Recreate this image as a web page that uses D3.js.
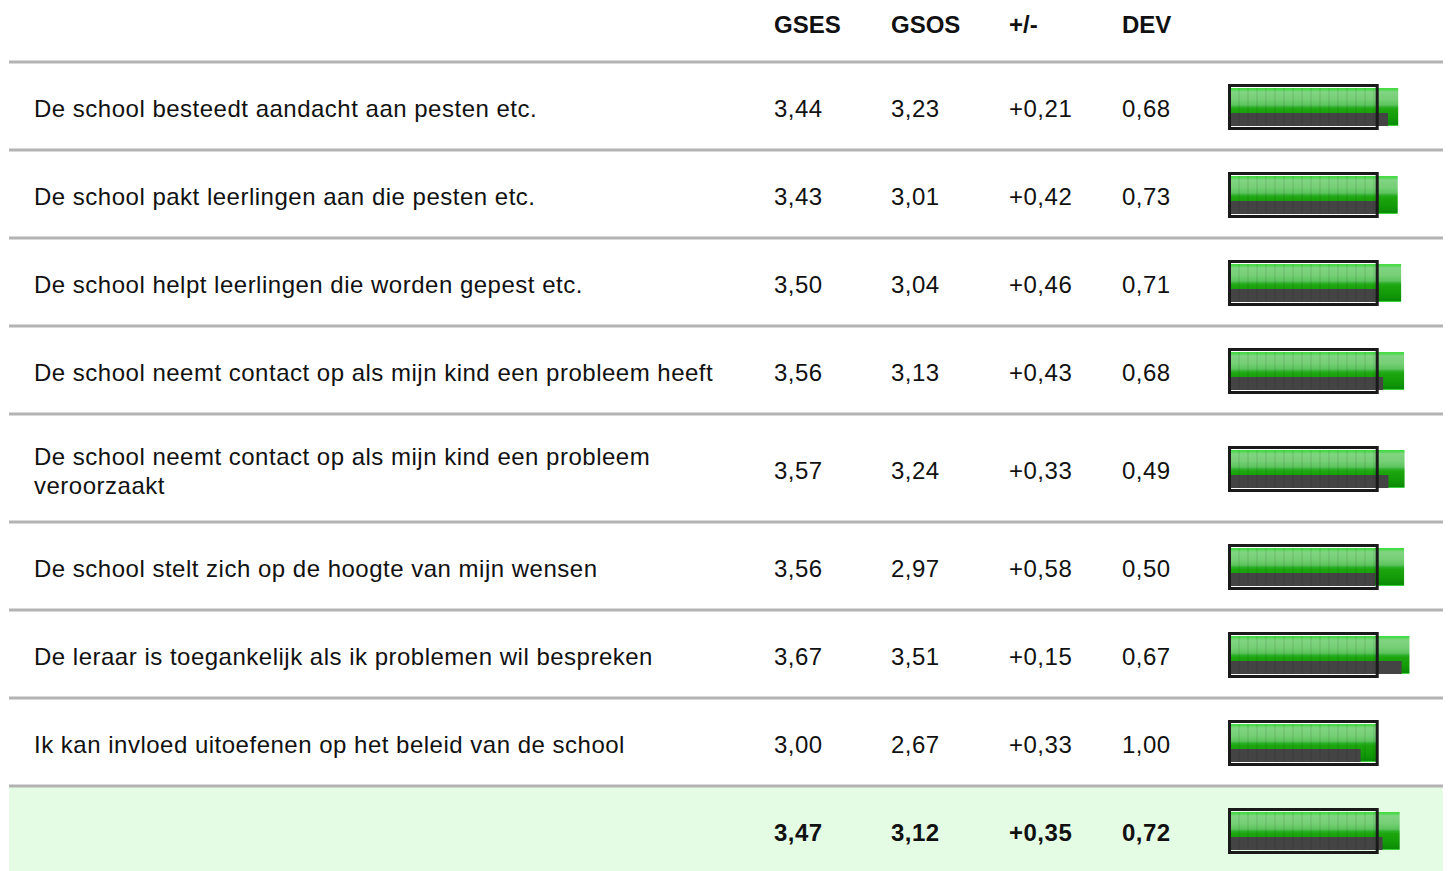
<!DOCTYPE html>
<html>
<head>
<meta charset="utf-8">
<script src="https://cdn.jsdelivr.net/npm/d3@7"></script>
<style>
  html, body { margin: 0; padding: 0; background: #fff; }
  svg { display: block; font-family: "Liberation Sans", Arial, Helvetica, sans-serif; }
</style>
</head>
<body>
<div id="chart"></div>
<script>
const columns = ['GSES', 'GSOS', '+/-', 'DEV'];

const labels = [
  'De school besteedt aandacht aan pesten etc.',
  'De school pakt leerlingen aan die pesten etc.',
  'De school helpt leerlingen die worden gepest etc.',
  'De school neemt contact op als mijn kind een probleem heeft',
  'De school neemt contact op als mijn kind een probleem veroorzaakt',
  'De school stelt zich op de hoogte van mijn wensen',
  'De leraar is toegankelijk als ik problemen wil bespreken',
  'Ik kan invloed uitoefenen op het beleid van de school'
];
const gses = [3.44, 3.43, 3.50, 3.56, 3.57, 3.56, 3.67, 3.00];
const gsos = [3.23, 3.01, 3.04, 3.13, 3.24, 2.97, 3.51, 2.67];
const diff = [0.21, 0.42, 0.46, 0.43, 0.33, 0.58, 0.15, 0.33];
const dev = [0.68, 0.73, 0.71, 0.68, 0.49, 0.50, 0.67, 1.00];

const totalGses = 3.47;
const totalGsos = 3.12;
const totalDiff = 0.35;
const totalDev = 0.72;

const width = 1448;
const height = 871;

const fmt = (v) => v.toFixed(2).replace('.', ',');
const fmtSigned = (v) => (v >= 0 ? '+' : '-') + fmt(Math.abs(v));

const svg = d3.select('#chart')
  .append('svg')
  .attr('width', width)
  .attr('height', height);

const defs = svg.append('defs');
const grad = defs.append('linearGradient')
  .attr('id', 'greenGrad')
  .attr('x1', 0).attr('y1', 0).attr('x2', 0).attr('y2', 1);
[
  [0, '#3fdc3f'], [0.05, '#54d854'], [0.1, '#82d482'], [0.3, '#76cf76'],
  [0.45, '#5cc45c'], [0.5, '#2fb02f'], [0.56, '#1ea60f'], [0.8, '#129a08'],
  [0.96, '#0a8a05'], [0.97, '#3ccf3c'], [1, '#3ccf3c']
].forEach(([o, c]) => grad.append('stop').attr('offset', o).attr('stop-color', c));

const lineLeft = 9;
const lineRight = 1443;
const labelX = 34;
const labelMax = 720;
const colX = [774, 891, 1009, 1122];
const headerBottom = 62;
const rowH = 88;
const lineGap = 29;
const spacing = 0.5;

// bar scale: frame box marks 0..3
const x = d3.scaleLinear().domain([0, 3]).range([1230, 1376.7]);

// header
svg.append('g')
  .selectAll('text')
  .data(columns)
  .join('text')
  .attr('x', (d, i) => colX[i])
  .attr('y', 33)
  .attr('font-size', 24)
  .attr('font-weight', 'bold')
  .attr('fill', '#111')
  .text((d) => d);

// wrap labels by measuring
const measure = svg.append('text')
  .attr('font-size', 24)
  .attr('letter-spacing', spacing)
  .attr('visibility', 'hidden');
function wrap(str) {
  const words = str.split(' ');
  const lines = [];
  let cur = '';
  words.forEach((w) => {
    const test = cur ? cur + ' ' + w : w;
    measure.text(test);
    if (measure.node().getComputedTextLength() > labelMax && cur) {
      lines.push(cur);
      cur = w;
    } else {
      cur = test;
    }
  });
  lines.push(cur);
  return lines;
}

const rows = labels.map((label, i) => ({
  lines: wrap(label),
  values: [fmt(gses[i]), fmt(gsos[i]), fmtSigned(diff[i]), fmt(dev[i])],
  a: gses[i],
  b: gsos[i],
  total: false
}));
rows.push({
  lines: [],
  values: [fmt(totalGses), fmt(totalGsos), fmtSigned(totalDiff), fmt(totalDev)],
  a: totalGses,
  b: totalGsos,
  total: true
});
measure.remove();

let rowTop = headerBottom;
rows.forEach((r) => {
  r.top = rowTop;
  r.h = rowH + Math.max(0, r.lines.length - 1) * 20;
  r.c = rowTop + r.h / 2;
  rowTop += r.h;
});

const totalRow = rows[rows.length - 1];
svg.append('rect')
  .attr('x', lineLeft)
  .attr('y', totalRow.top)
  .attr('width', lineRight - lineLeft)
  .attr('height', totalRow.h)
  .attr('fill', '#e4fce4');

// separators
svg.append('g')
  .selectAll('line')
  .data(rows)
  .join('line')
  .attr('x1', lineLeft)
  .attr('x2', lineRight)
  .attr('y1', (d) => d.top)
  .attr('y2', (d) => d.top)
  .attr('stroke', '#b3b3b3')
  .attr('stroke-width', 3);

const rowG = svg.append('g')
  .selectAll('g')
  .data(rows)
  .join('g');

rowG.each(function (r) {
  const g = d3.select(this);
  const n = r.lines.length;
  g.selectAll('text.label')
    .data(r.lines)
    .join('text')
    .attr('class', 'label')
    .attr('x', labelX)
    .attr('y', (d, i) => r.c + 11 - ((n - 1) * lineGap) / 2 + i * lineGap)
    .attr('font-size', 24)
    .attr('letter-spacing', spacing)
    .attr('fill', '#111')
    .text((d) => d);

  g.selectAll('text.value')
    .data(r.values)
    .join('text')
    .attr('class', 'value')
    .attr('x', (d, i) => colX[i])
    .attr('y', r.c + 11)
    .attr('font-size', 24)
    .attr('letter-spacing', spacing)
    .attr('font-weight', r.total ? 'bold' : 'normal')
    .attr('fill', '#111')
    .text((d) => d);

  // bars
  g.append('rect')
    .attr('x', x(0))
    .attr('y', r.c - 18)
    .attr('width', x(r.a) - x(0))
    .attr('height', 38)
    .attr('fill', 'url(#greenGrad)');

  g.append('rect')
    .attr('x', x(0))
    .attr('y', r.c + 7)
    .attr('width', x(r.b) - x(0))
    .attr('height', 13)
    .attr('fill', '#444444');

  // subtle stripes inside the frame
  const stripeEnd = Math.min(x(r.a), x(3));
  g.append('g')
    .selectAll('rect')
    .data(d3.range(x(0) + 8, stripeEnd - 1, 9))
    .join('rect')
    .attr('x', (d) => d)
    .attr('y', r.c - 18)
    .attr('width', 2)
    .attr('height', 38)
    .attr('fill', '#000')
    .attr('fill-opacity', 0.06);

  g.append('rect')
    .attr('x', x(0) - 0.5)
    .attr('y', r.c - 20.5)
    .attr('width', x(3) - x(0) + 1)
    .attr('height', 43)
    .attr('fill', 'none')
    .attr('stroke', '#1a1a1a')
    .attr('stroke-width', 3);
});
</script>
</body>
</html>
